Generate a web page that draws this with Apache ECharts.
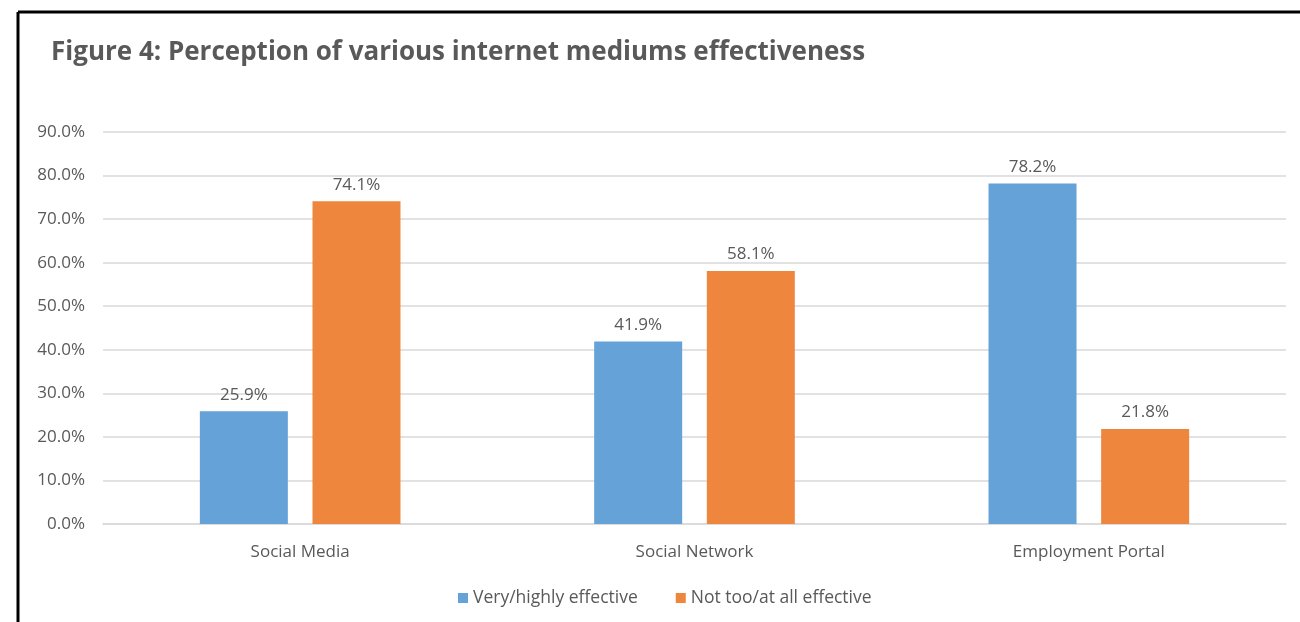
<!DOCTYPE html>
<html>
<head>
<meta charset="utf-8">
<script src="https://cdn.jsdelivr.net/npm/echarts@6/dist/echarts.min.js"></script>
<style>
  html, body { margin: 0; padding: 0; background: #ffffff; }
  #chart { width: 1300px; height: 622px; }
</style>
</head>
<body>
<div id="chart"></div>
<script>
// Survey results: share of respondents rating each medium
const categories = ['Social Media', 'Social Network', 'Employment Portal'];
const seriesNames = ['Very/highly effective', 'Not too/at all effective'];
const effective = [25.9, 41.9, 78.2];
const notEffective = [74.1, 58.1, 21.8];
const yTicks = [0, 10, 20, 30, 40, 50, 60, 70, 80, 90];

const textColor = '#595959';
const fontFamily = '"Open Sans", sans-serif';
const labelSize = 17;

const chart = echarts.init(document.getElementById('chart'));

const labelStyle = {
  show: true,
  position: 'top',
  distance: 8,
  color: textColor,
  fontSize: labelSize,
  fontFamily: fontFamily,
  formatter: p => p.value.toFixed(1) + '%'
};

chart.setOption({
  animation: false,
  backgroundColor: '#ffffff',
  title: {
    text: 'Figure 4: Perception of various internet mediums effectiveness',
    left: 46,
    top: 35,
    textStyle: {
      color: textColor,
      fontSize: 26,
      fontWeight: 'bold',
      fontFamily: fontFamily
    }
  },
  legend: {
    data: seriesNames,
    left: 453,
    top: 584,
    icon: 'rect',
    itemWidth: 10,
    itemHeight: 10,
    itemGap: 38,
    textStyle: { color: textColor, fontSize: 17.5, fontFamily: fontFamily }
  },
  grid: { left: 103, right: 14, top: 132, bottom: 98 },
  xAxis: {
    type: 'category',
    data: categories,
    axisTick: { show: false },
    axisLine: { lineStyle: { color: '#d9d9d9', width: 1.5 } },
    axisLabel: { color: textColor, fontSize: labelSize, fontFamily: fontFamily, margin: 20 }
  },
  yAxis: {
    type: 'value',
    min: yTicks[0],
    max: yTicks[yTicks.length - 1],
    interval: 10,
    axisLine: { show: false },
    axisTick: { show: false },
    splitLine: { lineStyle: { color: '#d9d9d9', width: 1.5 } },
    axisLabel: {
      color: textColor,
      fontSize: labelSize,
      fontFamily: fontFamily,
      margin: 18,
      formatter: v => v.toFixed(1) + '%'
    }
  },
  series: [
    {
      name: seriesNames[0],
      type: 'bar',
      data: effective,
      barWidth: 88,
      barGap: '28%',
      itemStyle: { color: '#64a2d8' },
      label: labelStyle
    },
    {
      name: seriesNames[1],
      type: 'bar',
      data: notEffective,
      barWidth: 88,
      itemStyle: { color: '#ee863d' },
      label: labelStyle
    }
  ],
  graphic: [
    {
      type: 'line',
      shape: { x1: 18, y1: 12, x2: 18, y2: 622 },
      style: { stroke: '#000000', lineWidth: 3 }
    },
    {
      type: 'line',
      shape: { x1: 18, y1: 12, x2: 1300, y2: 12 },
      style: { stroke: '#000000', lineWidth: 3 }
    }
  ]
});
</script>
</body>
</html>
